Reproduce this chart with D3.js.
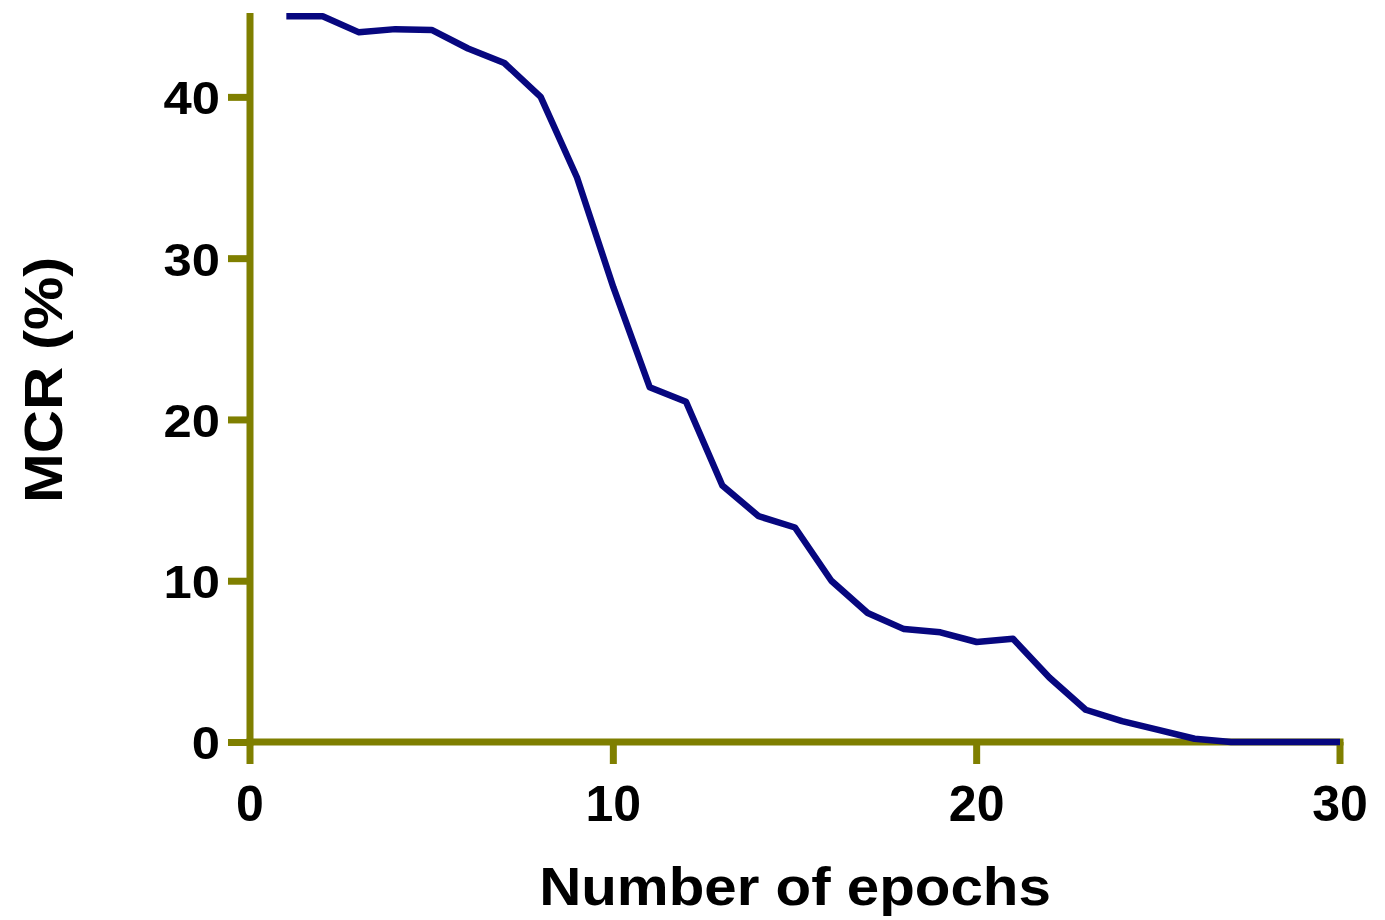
<!DOCTYPE html>
<html>
<head>
<meta charset="utf-8">
<script src="https://cdn.jsdelivr.net/npm/d3@7"></script>
<style>
  body { margin: 0; background: #fff; }
  text { font-family: "Liberation Sans", Arial, sans-serif; font-weight: bold; fill: #000; }
</style>
</head>
<body>
<script>
const epochs = d3.range(1, 31);
const mcr = [45, 45, 44, 44.2, 44.15, 43, 42.1, 40, 35, 28.2, 22, 21.1, 15.9, 14, 13.3,
  10, 8, 7, 6.8, 6.2, 6.4, 4, 2, 1.3, 0.75, 0.2, 0, 0, 0, 0];
const xTicks = [0, 10, 20, 30];
const yTicks = [0, 10, 20, 30, 40];

function main() {
  const width = 1385;
  const height = 920;
  const axisColor = '#7f7f00';
  const svg = d3.select('body').append('svg')
    .attr('width', width)
    .attr('height', height);

  const x = d3.scaleLinear().domain([0, 30]).range([250, 1340]);
  const y = d3.scaleLinear().domain([0, 45.2]).range([742, 13]);

  // y axis
  const yAxis = svg.append('g').attr('transform', `translate(${x(0)},0)`)
    .call(d3.axisLeft(y).tickValues(yTicks).tickSize(22).tickFormat(d3.format('d')));
  yAxis.select('.domain').attr('d', `M0,${y.range()[1]}V${y(0) + 3.5}`);
  yAxis.selectAll('.domain, .tick line')
    .attr('stroke', axisColor)
    .style('stroke-width', '7px');
  yAxis.selectAll('.tick text')
    .attr('font-size', 47)
    .attr('font-family', null)
    .attr('dy', '0.36em')
    .attr('transform', 'scale(1.08,1)')
    .attr('x', -30 / 1.08);

  // x axis
  const xAxis = svg.append('g').attr('transform', `translate(0,${y(0)})`)
    .call(d3.axisBottom(x).tickValues(xTicks).tickSize(22).tickFormat(d3.format('d')));
  xAxis.select('.domain').attr('d', `M${x(0) - 3.5},0H${x(30) + 3.5}`);
  xAxis.selectAll('.domain, .tick line')
    .attr('stroke', axisColor)
    .style('stroke-width', '7px');
  xAxis.selectAll('.tick text')
    .attr('font-size', 50)
    .attr('font-family', null)
    .attr('y', 79)
    .attr('dy', 0)
    .attr('transform', 'scale(1.04,1)')
    .attr('x', 0);
  xAxis.selectAll('.tick')
    .attr('transform', d => `translate(${x(d)},0)`);
  xAxis.selectAll('.tick text')
    .each(function (d) {
      // keep label centred on the tick after horizontal stretch
      d3.select(this).attr('transform', null).attr('textLength', null);
    });

  // data line
  const line = d3.line()
    .x((d, i) => x(epochs[i]))
    .y(d => y(d));
  svg.append('path')
    .datum(mcr)
    .attr('d', line)
    .attr('fill', 'none')
    .attr('stroke', '#07077f')
    .attr('stroke-width', 6.5)
    .attr('stroke-linejoin', 'round');

  // axis titles
  svg.append('text')
    .attr('transform', 'translate(795,905) scale(1.1,1)')
    .attr('text-anchor', 'middle')
    .attr('font-size', 53)
    .text('Number of epochs');

  svg.append('text')
    .attr('transform', 'translate(62,380) rotate(-90) scale(1.13,1)')
    .attr('text-anchor', 'middle')
    .attr('font-size', 53)
    .text('MCR (%)');
}

main();
</script>
</body>
</html>
